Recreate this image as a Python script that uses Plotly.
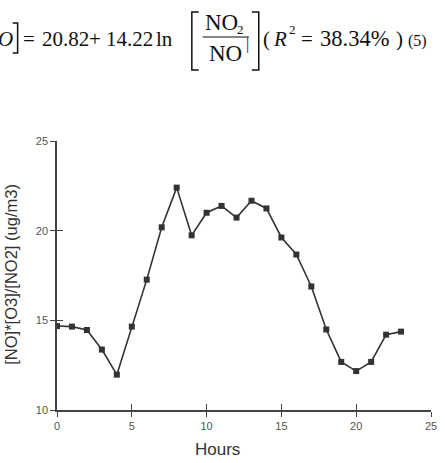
import plotly.graph_objects as go

hours = list(range(24))
ratio = [14.68, 14.65, 14.46, 13.37, 11.97, 14.65, 17.27, 20.19, 22.40, 19.74,
         21.00, 21.38, 20.73, 21.67, 21.24, 19.62, 18.67, 16.89, 14.49, 12.68,
         12.17, 12.68, 14.20, 14.37]
x_ticks = [0, 5, 10, 15, 20, 25]
y_ticks = [10, 15, 20, 25]
x_title = "Hours"
y_title = "[NO]*[O3]/[NO2] (ug/m3)"

W, H = 445, 463
L, R, T, B = 57, 437, 141, 410


def px(x):
    return (x - L) / (R - L)


def py(y):
    return (B - y) / (B - T)


fig = go.Figure()
fig.add_trace(go.Scatter(
    x=hours, y=ratio, mode="lines+markers",
    line=dict(color="#333333", width=1.6),
    marker=dict(symbol="square", size=6, color="#333333"),
    hoverinfo="skip", showlegend=False,
))
# invisible copy on the overlay axes so the inner halves of the tick marks are drawn
fig.add_trace(go.Scatter(x=hours, y=ratio, xaxis="x2", yaxis="y2", mode="markers",
                         marker=dict(opacity=0, color="#333333"), hoverinfo="skip",
                         showlegend=False))

axis_common = dict(showgrid=False, zeroline=False, ticks="outside", ticklen=5,
                   tickwidth=1.3, tickcolor="#444444",
                   tickfont=dict(family="Liberation Sans, Arial", size=11, color="#555555"))
inner = dict(showgrid=False, zeroline=False, showline=False, ticks="inside",
             ticklen=6, tickwidth=1.4, tickcolor="#444444", showticklabels=False)
fig.update_layout(
    width=W, height=H,
    margin=dict(l=L, r=W - R, t=T, b=H - B),
    paper_bgcolor="white", plot_bgcolor="white",
    xaxis=dict(range=[0, 25], tickvals=x_ticks, showline=True, linecolor="#444444",
               linewidth=1.5, **axis_common),
    yaxis=dict(range=[10, 25], tickvals=y_ticks, showline=True, linecolor="#444444",
               linewidth=1.5, **axis_common),
    xaxis2=dict(range=[0, 25], tickvals=x_ticks, overlaying="x", anchor="y2",
                side="bottom", **inner),
    yaxis2=dict(range=[10, 25], tickvals=y_ticks, overlaying="y", anchor="x2",
                side="left", **inner),
)

ann = []
ann.append(dict(text=x_title, x=px(220), y=py(449), xref="paper", yref="paper",
                showarrow=False, xanchor="center", yanchor="middle",
                font=dict(family="Liberation Sans, Arial", size=17, color="#333333")))
ann.append(dict(text=y_title, x=px(10), y=py(274), xref="paper", yref="paper",
                showarrow=False, xanchor="center", yanchor="middle", textangle=-90,
                font=dict(family="Liberation Sans, Arial", size=16.5, color="#333333")))

serif = "Liberation Serif, Times New Roman"


def t(text, x, y, size=21, anchor="left"):
    ann.append(dict(text=text, x=px(x), y=py(y), xref="paper", yref="paper",
                    showarrow=False, xanchor=anchor, yanchor="middle",
                    font=dict(family=serif, size=size, color="#111111")))


t("<i>O</i>", 14, 39, anchor="right")
t("=", 29, 39, anchor="center")
t("20.82", 40, 39)
t("+", 96, 39, anchor="center")
t("14.22", 105, 39)
t("ln", 156, 39)
t("NO", 224, 23, size=23, anchor="center")
t("2", 243, 30, size=13, anchor="center")
t("NO", 228, 54, size=23, anchor="center")
t("|", 251, 44, size=16, anchor="center")
t("(", 264, 39)
t("<i>R</i>", 274, 39)
t("2", 296, 30, size=13, anchor="center")
t("=", 311, 39, anchor="center")
t("38.34%", 322, 39, size=22.5)
t(")", 399, 39)
t("(5)", 412, 41, size=16)

fig.update_layout(annotations=ann)

shapes = []
line = dict(color="#111111", width=1.5)
shapes.append(dict(type="path", xref="paper", yref="paper", line=line,
                   path=f"M {px(12)} {py(23)} L {px(17)} {py(23)} L {px(17)} {py(53)} L {px(12)} {py(53)}"))
shapes.append(dict(type="path", xref="paper", yref="paper", line=line,
                   path=f"M {px(201)} {py(12)} L {px(194)} {py(12)} L {px(194)} {py(70)} L {px(201)} {py(70)}"))
shapes.append(dict(type="path", xref="paper", yref="paper", line=line,
                   path=f"M {px(255)} {py(12)} L {px(262)} {py(12)} L {px(262)} {py(70)} L {px(255)} {py(70)}"))
shapes.append(dict(type="line", xref="paper", yref="paper", line=dict(color="#111111", width=1.2),
                   x0=px(205), x1=px(252), y0=py(37), y1=py(37)))
fig.update_layout(shapes=shapes)

fig.write_html("out.html")
